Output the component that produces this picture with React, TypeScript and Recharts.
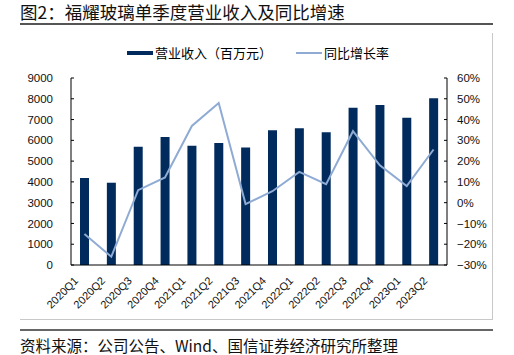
import { Bar, ComposedChart, Line, XAxis, YAxis } from 'recharts'

const quarters = [
  '2020Q1', '2020Q2', '2020Q3', '2020Q4',
  '2021Q1', '2021Q2', '2021Q3', '2021Q4',
  '2022Q1', '2022Q2', '2022Q3', '2022Q4',
  '2023Q1', '2023Q2',
]
const revenue = [4190, 3960, 5690, 6160, 5740, 5870, 5650, 6480, 6580, 6390, 7570, 7700, 7090, 8020]
const yoy = [-15.1, -26, 6, 12.1, 36.9, 48, -0.7, 5.5, 14.8, 8.9, 34.4, 18, 8, 25.6]

const revTicks = [0, 1000, 2000, 3000, 4000, 5000, 6000, 7000, 8000, 9000]
const pctTicks = [-30, -20, -10, 0, 10, 20, 30, 40, 50, 60]

const BAR = '#002b5c'
const LINE = '#8fabd4'
const CJK = '"Noto Sans CJK SC", "Noto Sans", sans-serif'
const NUM = '"Liberation Sans", Arial, sans-serif'

const data = quarters.map((q, i) => ({ q, revenue: revenue[i], yoy: yoy[i] }))

const fmtPct = (v: number) => (v < 0 ? `\u2212${Math.abs(v)}%` : `${v}%`)

function LegendBox() {
  return (
    <div style={{ position: 'absolute', left: 127, top: 44, display: 'flex', fontFamily: CJK, fontSize: 13, lineHeight: '18px', color: '#000' }}>
      <span style={{ display: 'flex', alignItems: 'center' }}>
        <span style={{ width: 26, height: 4, background: BAR, display: 'inline-block', marginRight: 2 }} />
        营业收入（百万元）
      </span>
      <span style={{ display: 'flex', alignItems: 'center', marginLeft: 24 }}>
        <span style={{ width: 26, height: 2, background: LINE, display: 'inline-block', marginRight: 2 }} />
        同比增长率
      </span>
    </div>
  )
}

export default function App() {
  return (
    <div style={{ position: 'absolute', left: 0, top: 0, width: 514, height: 355, background: '#fff', overflow: 'hidden' }}>
      <div style={{ position: 'absolute', left: 20, top: 1, fontFamily: CJK, fontSize: 17.5, lineHeight: '22px', color: '#111', whiteSpace: 'nowrap' }}>
        图2：福耀玻璃单季度营业收入及同比增速
      </div>
      <div style={{ position: 'absolute', left: 20, top: 23, width: 473, height: 2, background: '#555' }} />
      <div style={{ position: 'absolute', left: 492, top: 33, width: 1, height: 287, background: '#c8c8c8' }} />
      <div style={{ position: 'absolute', left: 20, top: 319, width: 473, height: 1, background: '#c8c8c8' }} />
      <div style={{ position: 'absolute', left: 20, top: 329, width: 473, height: 2, background: '#666' }} />
      <div style={{ position: 'absolute', left: 20, top: 335, fontFamily: CJK, fontSize: 15.5, lineHeight: '20px', color: '#111', whiteSpace: 'nowrap' }}>
        资料来源：公司公告、Wind、国信证券经济研究所整理
      </div>
      <LegendBox />
      <div style={{ position: 'absolute', left: 0, top: 0 }}>
        <ComposedChart width={514} height={320} data={data} margin={{ top: 78, right: 0, bottom: 5, left: 0 }}>
          <XAxis
            dataKey="q"
            interval={0}
            tickLine={false}
            axisLine={{ stroke: '#000' }}
            angle={-45}
            textAnchor="end"
            height={50}
            dx={-11}
            dy={3}
            tick={{ fontSize: 11, fill: '#111', fontFamily: NUM }}
          />
          <YAxis
            yAxisId="rev"
            width={71}
            domain={[0, 9000]}
            ticks={revTicks}
            interval={0}
            tickSize={-3}
            tickMargin={21}
            axisLine={{ stroke: '#000' }}
            tickLine={{ stroke: '#000' }}
            tick={{ fontSize: 11.5, fill: '#111', fontFamily: NUM }}
          />
          <YAxis
            yAxisId="pct"
            orientation="right"
            width={67}
            domain={[-30, 60]}
            ticks={pctTicks}
            interval={0}
            tickSize={-3}
            tickMargin={13}
            tickFormatter={fmtPct}
            axisLine={{ stroke: '#000' }}
            tickLine={{ stroke: '#000' }}
            tick={{ fontSize: 11.5, fill: '#111', fontFamily: NUM }}
          />
          <Bar yAxisId="rev" dataKey="revenue" fill={BAR} barSize={9} isAnimationActive={false} />
          <Line
            yAxisId="pct"
            dataKey="yoy"
            stroke={LINE}
            strokeWidth={2}
            dot={false}
            type="linear"
            isAnimationActive={false}
          />
        </ComposedChart>
      </div>
    </div>
  )
}
